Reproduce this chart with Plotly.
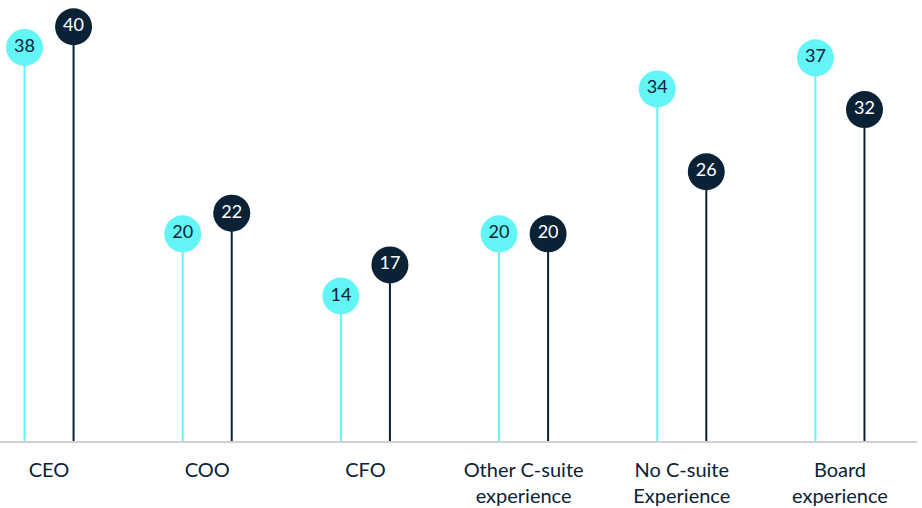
import plotly.graph_objects as go

categories = ["CEO", "COO", "CFO", "Other C-suite<br>experience",
              "No C-suite<br>Experience", "Board<br>experience"]
series_a = [38, 20, 14, 20, 34, 37]   # cyan
series_b = [40, 22, 17, 20, 26, 32]   # navy

CYAN = "#63F5F5"
NAVY = "#0B2236"
OFF = 0.155

idx = list(range(len(categories)))
xa = [i - OFF for i in idx]
xb = [i + OFF for i in idx]


def stems(xs, ys):
    sx, sy = [], []
    for x, y in zip(xs, ys):
        sx += [x, x, None]
        sy += [0, y, None]
    return sx, sy


fig = go.Figure()
for xs, ys, col, tcol in [(xa, series_a, CYAN, NAVY), (xb, series_b, NAVY, "white")]:
    sx, sy = stems(xs, ys)
    fig.add_trace(go.Scatter(x=sx, y=sy, mode="lines",
                             line=dict(color=col, width=2), hoverinfo="skip"))
    fig.add_trace(go.Scatter(x=xs, y=ys, mode="markers+text",
                             marker=dict(size=37, color=col),
                             text=[str(v) for v in ys], textposition="middle center",
                             textfont=dict(family="Lato", size=18, color=tcol)))

fig.update_layout(
    width=922, height=508,
    margin=dict(l=0, r=5, t=5, b=67),
    paper_bgcolor="white", plot_bgcolor="white",
    showlegend=False,
    font=dict(family="Lato", color=NAVY),
    xaxis=dict(range=[-0.31, 5.487], tickvals=idx, ticktext=categories,
               showgrid=False, zeroline=False, showline=True, automargin=False,
               linecolor="#D0D0D4", linewidth=1.5, ticks="", ticklabelstandoff=10,
               tickfont=dict(family="Lato", size=20, color=NAVY)),
    yaxis=dict(range=[0, 42.1], visible=False),
)

# drop the default page margin so the figure sits at the window's corner
fig.write_html("out.html", config={"displayModeBar": False},
               post_script="document.body.style.margin='0';")
